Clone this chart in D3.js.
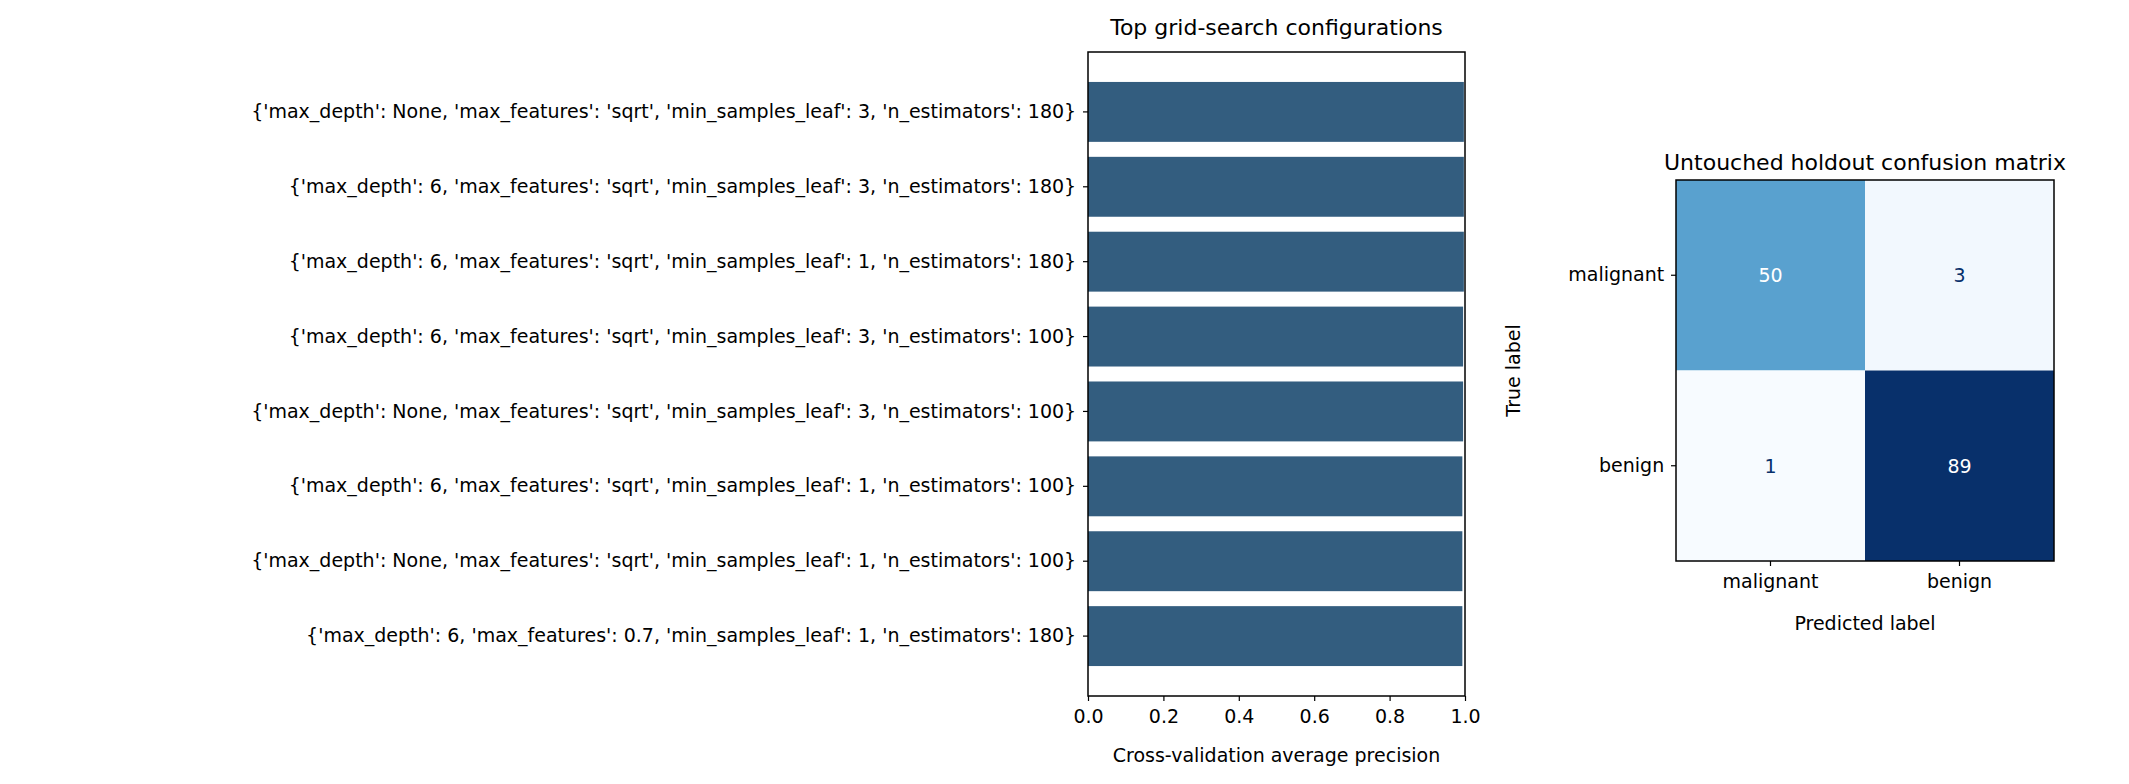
<!DOCTYPE html>
<html><head><meta charset="utf-8">
<script src="https://cdn.jsdelivr.net/npm/d3@7"></script>
<style>body{margin:0;background:#fff}svg{font-family:"DejaVu Sans",sans-serif}</style>
</head><body><div id="chart"></div>
<script>
// grid-search results
const configs = [
  "{'max_depth': None, 'max_features': 'sqrt', 'min_samples_leaf': 3, 'n_estimators': 180}",
  "{'max_depth': 6, 'max_features': 'sqrt', 'min_samples_leaf': 3, 'n_estimators': 180}",
  "{'max_depth': 6, 'max_features': 'sqrt', 'min_samples_leaf': 1, 'n_estimators': 180}",
  "{'max_depth': 6, 'max_features': 'sqrt', 'min_samples_leaf': 3, 'n_estimators': 100}",
  "{'max_depth': None, 'max_features': 'sqrt', 'min_samples_leaf': 3, 'n_estimators': 100}",
  "{'max_depth': 6, 'max_features': 'sqrt', 'min_samples_leaf': 1, 'n_estimators': 100}",
  "{'max_depth': None, 'max_features': 'sqrt', 'min_samples_leaf': 1, 'n_estimators': 100}",
  "{'max_depth': 6, 'max_features': 0.7, 'min_samples_leaf': 1, 'n_estimators': 180}"
];
const precision = [0.997, 0.997, 0.997, 0.995, 0.995, 0.993, 0.993, 0.993];
const xTicks = [0, 0.2, 0.4, 0.6, 0.8, 1.0];

// confusion matrix
const classes = ["malignant", "benign"];
const matrix = [[50, 3], [1, 89]];

const W = 2129, H = 784, FS = 19;
const svg = d3.select('#chart').append('svg').attr('width', W).attr('height', H);

// ---- bar panel
const b = {l: 1088, r: 1465, t: 52, b: 696};
const x = d3.scaleLinear().domain([0, 1]).range([b.l, b.r]);
const y = d3.scaleBand().domain(configs).range([b.t, b.b]).paddingInner(0.2).paddingOuter(0.4);

svg.append('g').selectAll('rect').data(configs).join('rect')
  .attr('x', x(0)).attr('y', d => y(d))
  .attr('width', (d, i) => x(precision[i]) - x(0)).attr('height', y.bandwidth())
  .attr('fill', '#335d7f');

const gx = svg.append('g').attr('transform', `translate(0,${b.b})`)
  .call(d3.axisBottom(x).tickValues(xTicks).tickFormat(d3.format('.1f')).tickSize(5).tickSizeOuter(0));
const gy = svg.append('g').attr('transform', `translate(${b.l},0)`)
  .call(d3.axisLeft(y).tickSize(5).tickSizeOuter(0));
[gx, gy].forEach(g => {
  g.select('.domain').remove();
  g.selectAll('text').attr('font-size', FS).attr('fill', '#000').attr('font-family', 'DejaVu Sans');
  g.selectAll('line').attr('stroke', '#000').attr('stroke-width', 1.2);
});
gx.selectAll('text').attr('dy', '1.0em');
gy.selectAll('text').attr('dx', '-0.2em');
svg.append('rect').attr('x', b.l).attr('y', b.t).attr('width', b.r - b.l).attr('height', b.b - b.t)
  .attr('fill', 'none').attr('stroke', '#000').attr('stroke-width', 1.5);
svg.append('text').attr('x', (b.l + b.r) / 2).attr('y', 35).attr('text-anchor', 'middle')
  .attr('font-size', 22).text('Top grid-search configurations');
svg.append('text').attr('x', (b.l + b.r) / 2).attr('y', 762).attr('text-anchor', 'middle')
  .attr('font-size', FS).text('Cross-validation average precision');

// ---- confusion matrix panel
const c = {l: 1676, r: 2054, t: 180, b: 561};
const cx = d3.scaleBand().domain(classes).range([c.l, c.r]);
const cy = d3.scaleBand().domain(classes).range([c.t, c.b]);
const color = d3.scaleSequential(d3.interpolateBlues).domain([1, 89]);
const cells = [];
matrix.forEach((row, i) => row.forEach((v, j) => cells.push({t: classes[i], p: classes[j], v})));

svg.append('g').selectAll('rect').data(cells).join('rect')
  .attr('x', d => cx(d.p)).attr('y', d => cy(d.t))
  .attr('width', cx.bandwidth()).attr('height', cy.bandwidth())
  .attr('fill', d => color(d.v));
svg.append('g').selectAll('text').data(cells).join('text')
  .attr('x', d => cx(d.p) + cx.bandwidth() / 2).attr('y', d => cy(d.t) + cy.bandwidth() / 2)
  .attr('text-anchor', 'middle').attr('dominant-baseline', 'central')
  .attr('font-size', FS).attr('fill', d => d.v > 45 ? '#fff' : '#08306b').text(d => d.v);

const cgx = svg.append('g').attr('transform', `translate(0,${c.b})`)
  .call(d3.axisBottom(cx).tickSize(5).tickSizeOuter(0));
const cgy = svg.append('g').attr('transform', `translate(${c.l},0)`)
  .call(d3.axisLeft(cy).tickSize(5).tickSizeOuter(0));
[cgx, cgy].forEach(g => {
  g.select('.domain').remove();
  g.selectAll('text').attr('font-size', FS).attr('fill', '#000').attr('font-family', 'DejaVu Sans');
  g.selectAll('line').attr('stroke', '#000').attr('stroke-width', 1.2);
});
cgx.selectAll('text').attr('dy', '1.0em');
cgy.selectAll('text').attr('dx', '-0.2em');
svg.append('rect').attr('x', c.l).attr('y', c.t).attr('width', c.r - c.l).attr('height', c.b - c.t)
  .attr('fill', 'none').attr('stroke', '#000').attr('stroke-width', 1.5);
svg.append('text').attr('x', (c.l + c.r) / 2).attr('y', 170).attr('text-anchor', 'middle')
  .attr('font-size', 22).text('Untouched holdout confusion matrix');
svg.append('text').attr('x', (c.l + c.r) / 2).attr('y', 630).attr('text-anchor', 'middle')
  .attr('font-size', FS).text('Predicted label');
svg.append('text').attr('transform', `translate(1520,${(c.t + c.b) / 2}) rotate(-90)`)
  .attr('text-anchor', 'middle').attr('font-size', FS).text('True label');
</script></body></html>
